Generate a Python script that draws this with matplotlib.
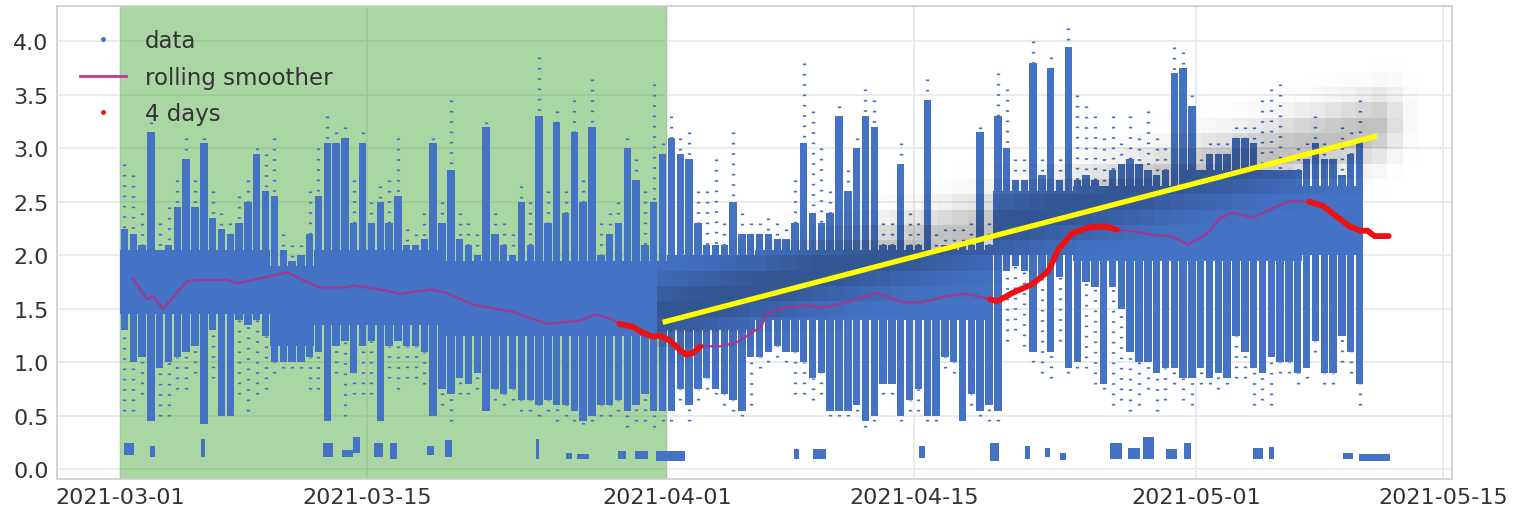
import numpy as np
import matplotlib
matplotlib.use("Agg")
import matplotlib.pyplot as plt
import matplotlib.dates as mdates
from matplotlib.lines import Line2D
from datetime import datetime

# ---------------- data (days since 2021-03-01) ----------------
bin_width = 0.5
bin_day = np.arange(0, 72, 0.5)

solid_lo = [1.30,1.00,1.05,0.45,0.95,1.00,1.05,1.10,1.15,0.42,1.30,0.50,0.50,1.40,1.35,1.40,1.25,1.00,1.00,1.00,
            1.00,1.05,1.10,0.45,1.15,1.20,0.90,1.15,1.20,0.45,1.15,1.20,1.15,1.15,1.10,0.50,0.75,0.70,0.85,0.80,
            0.90,0.55,0.75,0.70,0.75,0.65,0.65,0.60,0.65,0.60,0.60,0.55,0.45,0.50,0.60,0.60,0.65,0.55,0.60,0.70,
            0.55,0.55,0.55,0.75,0.60,0.75,0.85,0.75,0.70,0.65,0.55,1.05,1.05,1.10,1.15,1.10,1.10,1.00,0.85,0.90,
            0.55,0.55,0.55,0.60,0.45,0.50,0.80,0.80,0.50,0.65,0.75,0.50,0.50,1.05,1.00,0.45,0.70,0.55,0.60,0.55,
            1.85,1.90,1.85,1.10,1.80,1.10,1.80,0.95,1.00,1.75,1.70,0.80,1.70,1.50,1.10,1.00,1.00,0.90,0.95,0.95,
            0.85,0.85,0.95,0.85,0.90,0.85,1.25,1.10,0.95,0.90,1.05,1.00,1.00,0.90,0.95,1.20,0.90,0.90,1.25,1.10,
            0.80,np.nan,np.nan,np.nan]
solid_hi = [2.25,2.20,2.10,3.15,1.95,2.10,2.45,2.90,2.45,3.05,2.35,2.25,2.20,2.30,2.50,2.95,2.60,2.55,2.05,1.95,
            2.00,2.20,2.55,3.05,3.05,3.10,2.30,3.05,2.30,2.50,2.30,2.55,2.10,2.10,2.15,3.05,2.30,2.80,2.15,2.10,
            2.00,3.20,2.20,2.10,2.00,2.50,2.10,3.30,2.30,3.25,2.40,3.15,2.50,3.20,2.00,2.20,2.30,3.00,2.70,2.10,
            2.50,2.95,3.10,2.95,2.90,2.30,2.10,2.10,2.10,2.50,2.20,2.20,2.20,2.20,2.15,2.15,2.30,3.05,2.40,2.30,
            2.40,3.30,2.60,3.00,3.30,3.20,2.10,2.10,2.85,2.10,2.10,3.45,2.05,2.10,2.10,2.10,2.10,3.15,2.10,3.30,
            3.00,2.70,2.70,3.80,2.75,3.75,2.70,3.95,2.70,2.75,2.70,2.60,2.80,2.85,2.90,2.85,2.80,2.75,2.80,3.70,
            3.75,3.40,2.60,2.95,2.95,2.95,3.10,3.10,3.05,2.70,2.60,2.60,2.80,2.80,2.90,3.05,2.90,2.90,2.75,2.95,
            3.05,np.nan,np.nan,np.nan]
sparse_lo = [0.55,0.55,0.70,0.45,0.50,0.50,0.75,0.75,0.90,0.42,0.85,0.50,0.50,0.70,0.55,0.70,0.75,0.90,0.95,0.95,
             0.95,0.75,0.75,0.45,0.90,0.50,0.70,0.70,0.70,0.45,0.85,0.75,0.85,0.85,0.80,0.50,0.60,0.45,0.70,0.70,
             0.75,0.55,0.65,0.60,0.65,0.55,0.55,0.50,0.55,0.45,0.50,0.45,0.42,0.45,0.50,0.50,0.55,0.40,0.45,0.45,
             0.40,0.45,0.45,0.65,0.45,0.65,0.75,0.70,0.60,0.55,0.50,0.60,0.95,1.00,1.05,1.00,0.70,0.70,0.65,0.70,
             0.50,0.50,0.50,0.55,0.40,0.45,0.70,0.70,0.45,0.55,0.55,0.45,0.45,0.95,0.90,0.45,0.60,0.50,0.45,0.45,
             1.20,1.30,1.15,1.00,0.90,0.85,1.20,0.90,0.95,0.95,0.80,0.75,0.60,0.65,0.55,0.60,0.75,0.55,0.65,0.80,
             0.65,0.60,0.80,0.80,0.75,0.80,0.85,0.85,0.60,0.65,0.60,0.90,0.90,0.80,0.85,1.10,0.80,0.80,1.00,0.90,
             0.60,np.nan,np.nan,np.nan]
sparse_hi = [2.85,2.75,2.40,3.25,2.30,2.45,2.70,3.10,2.70,3.10,2.60,2.40,2.30,2.55,2.70,3.00,2.95,3.10,2.20,2.10,
             2.10,2.60,3.00,3.30,3.15,3.20,2.70,3.15,2.50,2.65,2.70,3.10,2.25,2.20,2.40,3.10,2.50,3.45,2.40,2.30,
             2.20,3.25,2.40,2.30,2.20,2.65,2.50,3.85,2.60,3.35,2.60,3.45,2.70,3.65,2.30,2.40,2.50,3.10,2.90,2.60,
             3.60,3.05,3.30,3.10,3.15,2.60,2.60,2.90,2.30,3.15,2.40,2.30,2.30,2.35,2.30,2.25,2.70,3.80,3.35,3.00,
             2.60,3.40,2.80,3.10,3.55,3.45,2.30,2.30,3.05,2.40,2.30,3.65,2.20,2.25,2.25,2.25,2.30,3.20,2.30,3.70,
             3.55,2.90,2.90,4.00,2.90,3.85,2.90,4.12,3.50,3.40,3.30,3.10,3.30,3.05,3.30,3.10,3.35,3.10,3.00,3.95,
             3.90,3.50,2.90,3.05,3.05,3.05,3.20,3.20,3.20,3.45,3.55,3.60,2.90,3.00,3.05,3.30,3.05,3.00,3.20,3.15,
             3.45,np.nan,np.nan,np.nan]

# continuous dense core of the cloud: start day, end day, low, high
core_start = [0.0, 8.5, 11.0, 18.0, 31.0, 36.0, 49.5, 54.0, 60.0, 67.0]
core_end   = [8.5, 11.0, 18.0, 31.0, 36.0, 49.5, 54.0, 60.0, 67.0, 70.3]
core_lo    = [1.45, 1.15, 1.35, 1.25, 1.30, 1.40, 2.00, 1.95, 1.95, 2.00]
core_hi    = [2.05, 1.90, 2.05, 1.95, 2.00, 2.05, 2.60, 2.65, 2.80, 2.65]

# clusters of readings close to zero: start day, end day, low, high
low_start = [0.2, 1.7, 4.6, 11.5, 12.6, 13.2, 14.4, 15.3, 17.4, 18.4, 23.6, 25.3, 25.9, 28.2, 29.2, 30.4,
             38.2, 39.3, 45.3, 49.3, 51.3, 52.4, 53.3, 56.1, 57.1, 58.0, 59.3, 60.3, 64.2, 65.1, 69.3, 70.2]
low_end   = [0.8, 2.0, 4.8, 12.1, 13.2, 13.6, 14.9, 15.7, 17.8, 18.8, 23.75, 25.6, 26.6, 28.7, 29.9, 32.0,
             38.5, 40.0, 45.6, 49.8, 51.6, 52.7, 53.6, 56.8, 57.8, 58.6, 59.9, 60.7, 64.8, 65.4, 69.9, 72.0]
low_lo    = [0.13, 0.12, 0.12, 0.12, 0.12, 0.15, 0.12, 0.10, 0.13, 0.12, 0.10, 0.10, 0.10, 0.10, 0.10, 0.08,
             0.10, 0.10, 0.11, 0.08, 0.10, 0.12, 0.09, 0.10, 0.10, 0.10, 0.10, 0.10, 0.10, 0.10, 0.10, 0.08]
low_hi    = [0.25, 0.22, 0.28, 0.25, 0.18, 0.30, 0.25, 0.25, 0.22, 0.27, 0.28, 0.15, 0.14, 0.17, 0.17, 0.17,
             0.19, 0.19, 0.22, 0.25, 0.22, 0.20, 0.15, 0.25, 0.20, 0.30, 0.19, 0.25, 0.20, 0.21, 0.15, 0.14]

# rolling smoother
smooth_day = [0.74, 1.53, 1.87, 2.44, 3.8, 4.53, 6.06, 6.63, 7.54, 9.46, 11.3, 12.9, 13.2, 15.1, 15.9,
              17.6, 18.5, 20.0, 22.3, 24.2, 26.1, 27.0, 27.9, 28.3, 29.1, 29.6, 30.2, 30.6, 31.2, 31.7,
              32.1, 32.5, 32.9, 34.1, 35.0, 36.3, 36.7, 37.6, 38.9, 39.8, 41.2, 42.3, 42.9, 43.4, 44.4,
              45.4, 46.9, 48.0, 49.3, 49.7, 50.6, 51.7, 52.6, 53.2, 54.0, 54.9, 55.8, 56.5, 57.6, 58.6,
              59.6, 60.5, 61.3, 61.7, 62.3, 63.0, 63.6, 64.2, 65.2, 66.3, 67.4, 68.2, 68.9, 69.7, 70.3,
              70.7, 71.1, 71.5, 71.9]
smooth_val = [1.78, 1.59, 1.62, 1.50, 1.76, 1.77, 1.77, 1.74, 1.77, 1.84, 1.70, 1.70, 1.72, 1.67, 1.64,
              1.68, 1.65, 1.54, 1.47, 1.36, 1.39, 1.45, 1.40, 1.36, 1.33, 1.28, 1.24, 1.25, 1.20, 1.12,
              1.07, 1.09, 1.15, 1.15, 1.19, 1.33, 1.45, 1.51, 1.53, 1.51, 1.56, 1.62, 1.65, 1.62, 1.56,
              1.56, 1.62, 1.64, 1.59, 1.57, 1.65, 1.73, 1.85, 2.06, 2.21, 2.26, 2.27, 2.24, 2.22, 2.19,
              2.18, 2.10, 2.17, 2.22, 2.34, 2.40, 2.38, 2.35, 2.43, 2.51, 2.50, 2.46, 2.37, 2.27, 2.23,
              2.23, 2.18, 2.18, 2.18]
# the three "4 days" stretches highlighted on the smoother
red_from = [28.3, 49.3, 67.3]
red_to = [32.95, 56.5, 71.9]

# trend line
trend_day = [30.9, 71.1]
trend_val = [1.38, 3.11]

# ---------------- plotting ----------------
base = mdates.date2num(datetime(2021, 3, 1))
blue = '#4472c4'

plt.rcParams['lines.dash_capstyle'] = 'round'
fig = plt.figure(figsize=(15.15, 5.1), dpi=100)
ax = fig.add_axes([57/1515, 1 - 480/510, (1452-57)/1515, (480-7)/510])

ax.set_axisbelow(True)
ax.grid(True, color='#e8e8e8', lw=1.2)
ax.axvspan(base + 0, base + 31, color='#42a433', alpha=0.45, lw=0, zorder=1)

# dense core
cs = np.asarray(core_start); ce = np.asarray(core_end)
cl = np.asarray(core_lo); chh = np.asarray(core_hi)
ax.bar(base + cs, chh - cl, bottom=cl, width=ce - cs, align='edge', color=blue, lw=0, zorder=2)

# daily streaks
col_w = 0.42
bd = np.asarray(bin_day)
slo = np.asarray(solid_lo); shi = np.asarray(solid_hi)
plo = np.asarray(sparse_lo); phi = np.asarray(sparse_hi)
ok = ~np.isnan(slo)
xc = base + bd[ok] + bin_width / 2
ax.bar(xc, shi[ok] - slo[ok], bottom=slo[ok], width=col_w, align='center',
       color=blue, lw=0, zorder=2)
ax.vlines(xc, phi[ok], shi[ok], colors=blue, lw=2.4, linestyles=(0, (0.5, 2.6)), zorder=2)
ax.vlines(xc, plo[ok], slo[ok], colors=blue, lw=2.4, linestyles=(0, (0.5, 2.6)), zorder=2)

ls = np.asarray(low_start); le = np.asarray(low_end)
ll = np.asarray(low_lo); lh = np.asarray(low_hi)
ax.bar(base + ls, lh - ll, bottom=ll, width=le - ls, align='edge', color=blue, lw=0, zorder=2)

# grey uncertainty band around the trend
slope = (trend_val[1] - trend_val[0]) / (trend_day[1] - trend_day[0])
cw, chc = 0.88, 0.143
cx = np.arange(30.45, 73.6, cw) + cw / 2
cy = np.arange(0.85, 3.9, chc) + chc / 2
CX, CY = np.meshgrid(cx, cy)
center = trend_val[0] + slope * (CX - trend_day[0]) + 0.08
g = np.exp(-0.5 * ((CY - center) / 0.21) ** 2)
fade = np.where(CX > trend_day[1], np.exp(-((CX - trend_day[1]) / 1.4) ** 2), 1.0)
g = g * fade
img = np.zeros(g.shape + (4,))
img[..., 3] = 0.25 * g
ax.imshow(img, extent=[base + 30.45, base + 30.45 + cw * len(cx), 0.85, 0.85 + chc * len(cy)],
          origin='lower', aspect='auto', interpolation='nearest', zorder=3)

sd = np.asarray(smooth_day); sv = np.asarray(smooth_val)
ax.plot(base + sd, sv, color='#a8348f', lw=1.7, alpha=0.9, zorder=4)
for a, b in zip(red_from, red_to):
    m = (sd >= a) & (sd <= b)
    ax.plot(base + sd[m], sv[m], color='#ee1111', lw=4.2, solid_capstyle='round',
            solid_joinstyle='round', zorder=5)

ax.plot(base + np.asarray(trend_day), trend_val, color='#ffff00', lw=3.8, zorder=6)

ax.set_xlim(base - 3.57, base + 75.49)
ax.set_ylim(-0.09, 4.33)
ax.set_yticks([0.0, 0.5, 1.0, 1.5, 2.0, 2.5, 3.0, 3.5, 4.0])
ax.xaxis.set_major_locator(mdates.DayLocator(bymonthday=[1, 15]))
ax.xaxis.set_major_formatter(mdates.DateFormatter('%Y-%m-%d'))
ax.tick_params(length=0, labelsize=16, labelcolor='#333333', pad=6)
for s in ax.spines.values():
    s.set_color('#cccccc'); s.set_linewidth(1.2)

handles = [Line2D([], [], marker='.', ls='none', color=blue, markersize=5),
           Line2D([], [], color='#c0399a', lw=2),
           Line2D([], [], marker='.', ls='none', color='#ee1111', markersize=5)]
leg = ax.legend(handles, ['data', 'rolling smoother', '4 days'], loc='upper left', frameon=False,
                fontsize=16.5, handlelength=2.0, handletextpad=0.85, labelspacing=0.6,
                borderaxespad=0.7, borderpad=0.3)
for t in leg.get_texts():
    t.set_color('#333333')
leg.set_zorder(10)

fig.savefig('out.png', dpi=100)
